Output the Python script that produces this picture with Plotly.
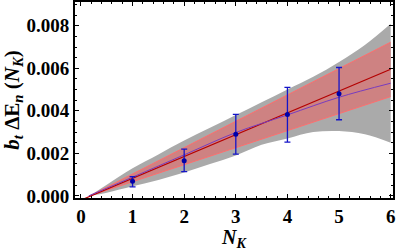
import plotly.graph_objects as go

# data points with error bars
N_pts = [1, 2, 3, 4, 5]
vals = [0.00069, 0.00165, 0.00290, 0.00383, 0.00480]
err_plus = [0.00022, 0.00055, 0.00093, 0.00127, 0.00124]
err_minus = [0.00027, 0.00051, 0.00094, 0.00130, 0.00122]

# gray band (wide uncertainty)
N_gray = [0.17, 0.5, 1, 1.5, 2, 2.5, 3, 3.5, 4, 4.5, 5, 5.5, 6]
gray_up = [0.0, 0.00052, 0.0013, 0.00195, 0.0026, 0.0032, 0.0038, 0.0044, 0.0050, 0.0056, 0.0063, 0.0071, 0.0081]
gray_lo = [0.0, 0.00015, 0.00045, 0.00075, 0.0011, 0.0015, 0.0019, 0.0024, 0.0027, 0.0030, 0.00305, 0.0029, 0.0025]

# red linear fit with band
N_red = [0, 6]
red_fit = [-0.0002, 0.00596]
N_red_band = [0.17, 6]
red_up = [0.0, 0.00723]
red_lo = [0.0, 0.00467]

# purple curve
N_pur = [0.15, 1, 2, 3, 4, 5, 6]
pur = [0.0, 0.00088, 0.00193, 0.00298, 0.00381, 0.00464, 0.0053]

fig = go.Figure()
fig.add_trace(go.Scatter(x=N_gray, y=gray_up, mode="lines", line=dict(width=0, shape="spline"),
                         hoverinfo="skip", showlegend=False))
fig.add_trace(go.Scatter(x=N_gray, y=gray_lo, mode="lines", line=dict(width=0, shape="spline"),
                         fill="tonexty", fillcolor="rgb(170,170,170)", hoverinfo="skip", showlegend=False))
fig.add_trace(go.Scatter(x=N_red_band, y=red_up, mode="lines", line=dict(width=1, color="rgb(255,110,110)"),
                         showlegend=False))
fig.add_trace(go.Scatter(x=N_red_band, y=red_lo, mode="lines", line=dict(width=1, color="rgb(255,110,110)"),
                         fill="tonexty", fillcolor="rgb(206,130,130)", showlegend=False))
fig.add_trace(go.Scatter(x=N_red, y=red_fit, mode="lines", line=dict(width=1.2, color="rgb(180,0,0)"),
                         showlegend=False))
fig.add_trace(go.Scatter(x=N_pur, y=pur, mode="lines", line=dict(width=1, color="rgb(120,60,190)", shape="spline"),
                         showlegend=False))
fig.add_trace(go.Scatter(x=N_pts, y=vals, mode="markers",
                         marker=dict(size=5, color="rgb(0,0,170)"),
                         error_y=dict(type="data", array=err_plus, arrayminus=err_minus,
                                      color="rgb(20,20,200)", thickness=1.3, width=3),
                         showlegend=False))

font_fam = "Liberation Serif, Times New Roman, serif"
fig.update_layout(
    width=399, height=251,
    margin=dict(l=75, r=6, t=2, b=53, autoexpand=False),
    paper_bgcolor="white", plot_bgcolor="white",
    font=dict(family=font_fam, color="black"),
    xaxis=dict(range=[-0.115, 6.045], tickvals=[0, 1, 2, 3, 4, 5, 6], automargin=False,
               showline=True, linewidth=2, linecolor="black", mirror="allticks",
               ticks="inside", ticklen=4, tickwidth=1, tickcolor="black",
               minor=dict(dtick=0.2, tick0=0, ticks="inside", ticklen=2, tickcolor="black"),
               showgrid=False, zeroline=False,
               tickfont=dict(size=19, family=font_fam, weight="bold"),
               title=dict(text="<i>N</i><sub><i>K</i></sub>", font=dict(size=20, family=font_fam, weight="bold"))),
    yaxis=dict(range=[-0.0001, 0.00912], tickvals=[0, 0.002, 0.004, 0.006, 0.008], tickformat=".3f",
               automargin=False,
               showline=True, linewidth=2, linecolor="black", mirror="allticks",
               ticks="inside", ticklen=4, tickwidth=1, tickcolor="black",
               minor=dict(dtick=0.0005, tick0=0, ticks="inside", ticklen=2, tickcolor="black"),
               showgrid=False, zeroline=False,
               tickfont=dict(size=19, family=font_fam, weight="bold"),
               title=dict(text="<i>b</i><sub><i>t</i></sub> ΔE<sub><i>n</i></sub> (<i>N</i><sub><i>K</i></sub>)",
                          font=dict(size=21, family=font_fam, weight="bold"))),
)
fig.write_html("out.html", config={"displayModeBar": False},
               post_script="document.body.style.margin='0';document.body.style.overflow='hidden';")
